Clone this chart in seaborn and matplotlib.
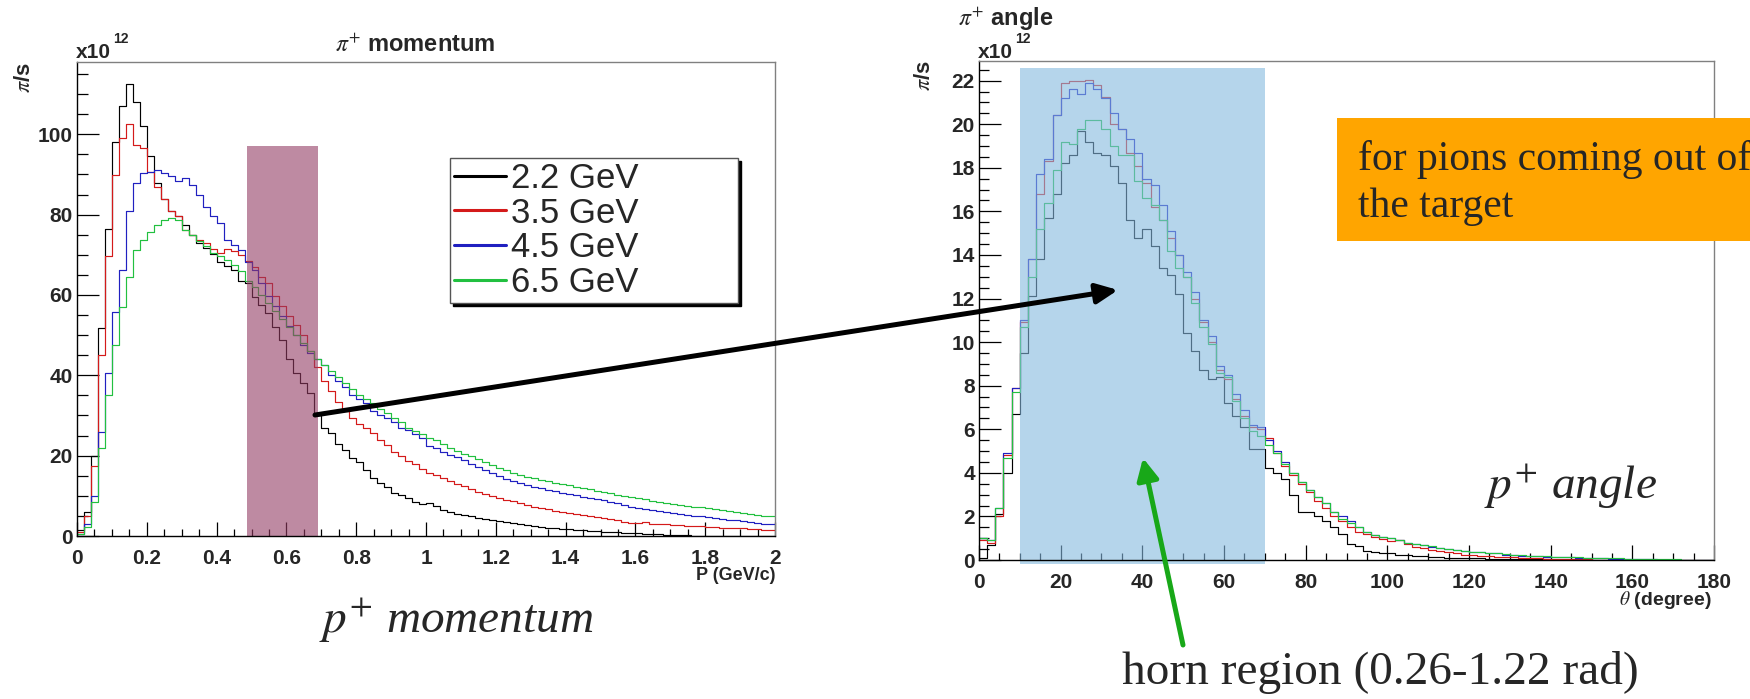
import numpy as np
import pandas as pd
import matplotlib
matplotlib.use("Agg")
import matplotlib.pyplot as plt
import seaborn as sns
from matplotlib.patches import Rectangle, FancyArrowPatch
from matplotlib.lines import Line2D
from matplotlib.ticker import MultipleLocator, FuncFormatter

# ---------------- data (x10^12 pions / s) ----------------
beam_labels = ["2.2 GeV", "3.5 GeV", "4.5 GeV", "6.5 GeV"]
line_colors = ["#000000", "#d41a1a", "#2020c0", "#22c040"]

# momentum spectrum, 100 bins of 0.02 GeV/c from 0 to 2
p_range, p_width = (0.0, 2.0), 0.02
p_2p2 = [1.5, 6, 20, 51.7, 76.5, 98, 107, 112.5, 108, 102,
         94.5, 88, 84, 81, 79.6, 77.4, 75, 73, 71.6, 70.2,
         68.2, 67.1, 66.3, 63.4, 63, 59.6, 57.5, 55.5, 52, 48.8,
         44, 40.5, 38, 35.5, 30, 27, 25.6, 23, 21.4, 19.4,
         18.5, 16.4, 14.4, 13.1, 12.3, 10.6, 10.2, 9.4, 8.5, 8.0,
         8.1, 7.5, 6.4, 6.0, 5.6, 5.2, 4.9, 4.6, 4.3, 4.0,
         3.7, 3.5, 3.2, 3.0, 2.7, 2.5, 2.3, 2.1, 1.9, 1.8,
         1.7, 1.5, 1.4, 1.3, 1.2, 1.1, 1.0, 0.9, 0.8, 0.8,
         0.7, 0.6, 0.5, 0.4, 0.3, 0.2, 0.15, 0.15, 0.1, 0.1,
         0.1, 0.1, 0.1, 0.05, 0.05, 0.05, 0.05, 0.05, 0.05, 0.05]
p_3p5 = [1, 5, 17.5, 45, 69.6, 89.8, 99, 102.6, 97.4, 96.5,
         90.7, 87, 84, 81, 79.6, 76.3, 75, 73.7, 73, 71.5,
         70.4, 71.4, 71, 70, 68.5, 67, 64.6, 63, 59.7, 57.3,
         54.8, 52.5, 50, 46, 42, 38.5, 36, 33.4, 31, 29.5,
         28, 26.8, 25.6, 24, 22.6, 21, 19.8, 18.7, 17.8, 16.8,
         15.8, 15.2, 14.4, 13.7, 13.0, 12.4, 11.8, 11.0, 10.4, 9.9,
         9.4, 9.0, 8.6, 8.1, 7.7, 7.3, 7.0, 6.6, 6.3, 6.0,
         5.7, 5.4, 5.2, 4.9, 4.7, 4.4, 4.2, 3.9, 3.6, 3.3,
         3.2, 3.5, 3.1, 3.0, 2.9, 2.8, 2.7, 2.6, 2.5, 2.4,
         2.3, 2.2, 2.1, 2.0, 2.0, 1.9, 1.8, 1.7, 1.6, 1.6]
p_4p5 = [0.5, 3, 10, 26, 40.5, 55.8, 66.3, 81, 87.8, 90.3,
         90.5, 91, 90.3, 89.5, 88.4, 89, 87.4, 84.9, 82, 79.6,
         77.8, 73.7, 72.5, 71.2, 68.3, 66.3, 63, 59.7, 57.3, 54.8,
         52.3, 50, 47.5, 45.5, 44, 42.5, 40, 38.5, 37, 35,
         34, 33, 31, 30, 29.5, 28.5, 27, 26.4, 25.3, 24.3,
         22.5, 21.8, 21.0, 20.2, 19.6, 18.8, 18.0, 17.2, 16.4, 15.7,
         14.9, 14.3, 13.8, 13.3, 12.8, 12.3, 11.9, 11.4, 11.1, 10.8,
         10.5, 10.1, 9.8, 9.5, 9.2, 8.9, 8.5, 8.1, 7.6, 7.3,
         7.0, 6.7, 6.4, 6.1, 5.9, 5.7, 5.5, 5.3, 5.1, 4.9,
         4.7, 4.5, 4.3, 4.1, 3.9, 3.7, 3.4, 3.2, 3.0, 2.9]
p_6p5 = [0.5, 2.3, 8.5, 22, 35, 47.6, 56.9, 64.6, 71.2, 73.6,
         75.8, 77.4, 78.6, 79.2, 78.6, 76.2, 75, 73.4, 72.1, 70.5,
         69.8, 68.8, 67.4, 66, 63.4, 62, 60, 58, 56, 54,
         52, 50, 48, 46, 44, 42.5, 41, 39.5, 38, 36.5,
         35, 34, 33, 31.5, 30.5, 29.5, 28.5, 26.8, 26.2, 25.5,
         24.5, 23.9, 23.0, 22.0, 21.2, 20.5, 19.8, 19.1, 18.4, 17.6,
         16.9, 16.4, 15.8, 15.3, 14.8, 14.4, 14.0, 13.6, 13.2, 12.9,
         12.6, 12.3, 12.0, 11.6, 11.3, 11.0, 10.7, 10.3, 10.0, 9.7,
         9.4, 9.1, 8.7, 8.5, 8.2, 7.9, 7.7, 7.5, 7.3, 7.1,
         6.9, 6.6, 6.4, 6.2, 6.0, 5.7, 5.5, 5.2, 5.0, 4.9]

# angular spectrum, 90 bins of 2 degrees from 0 to 180
t_range, t_width = (0.0, 180.0), 2.0
t_2p2 = [0.1, 0.7, 2.1, 4.0, 6.7, 9.5, 12.1, 13.8, 15.7, 16.8,
         18.2, 18.6, 19.7, 19.2, 18.7, 18.6, 18.1, 17.3, 15.6, 14.8,
         15.2, 14.4, 13.4, 13.1, 12.2, 10.4, 9.6, 8.7, 8.3, 8.4,
         7.2, 6.6, 6.1, 5.1, 5.1, 4.2, 4.0, 3.7, 3.0, 2.2,
         2.2, 2.0, 1.8, 1.5, 1.2, 0.75, 0.65, 0.4, 0.35, 0.3,
         0.3, 0.25, 0.25, 0.2, 0.2, 0.15, 0.15, 0.1, 0.1, 0.1,
         0.08, 0.08, 0.06, 0.06, 0.05, 0.05, 0.04, 0.04, 0.03, 0.03,
         0.02, 0.02, 0.02, 0.01, 0.01, 0.01, 0, 0, 0, 0,
         0, 0, 0, 0, 0, 0, 0, 0, 0, 0]
t_3p5 = [0.9, 0.8, 2.0, 4.8, 7.9, 10.9, 13.8, 16.8, 18.3, 20.4,
         21.9, 22.0, 22.0, 22.05, 21.8, 21.25, 20.0, 19.8, 18.7, 18.1,
         17.3, 16.2, 15.6, 14.8, 14.0, 13.0, 12.0, 10.9, 10.0, 8.7,
         8.3, 7.4, 6.6, 6.1, 6.0, 5.6, 4.9, 4.3, 3.9, 3.5,
         3.1, 2.7, 2.4, 2.0, 1.8, 1.5, 1.3, 1.2, 1.05, 0.95,
         0.85, 0.9, 0.75, 0.6, 0.55, 0.45, 0.4, 0.35, 0.3, 0.25,
         0.25, 0.2, 0.2, 0.15, 0.15, 0.12, 0.1, 0.1, 0.08, 0.06,
         0.05, 0.05, 0.04, 0.03, 0.03, 0.02, 0.02, 0.01, 0, 0,
         0, 0, 0, 0, 0, 0, 0, 0, 0, 0]
t_4p5 = [1.0, 0.9, 2.4, 4.9, 7.9, 11.0, 13.8, 17.7, 18.4, 20.4,
         21.2, 21.6, 21.4, 21.9, 21.6, 21.2, 20.5, 19.8, 19.3, 18.7,
         17.5, 17.2, 16.3, 15.1, 14.0, 13.2, 12.3, 11.0, 10.3, 8.9,
         8.5, 7.6, 6.9, 6.2, 6.1, 5.5, 5.0, 4.5, 4.0, 3.6,
         3.2, 2.9, 2.6, 2.2, 2.0, 1.8, 1.5, 1.3, 1.15, 1.05,
         1.0, 0.9, 0.8, 0.75, 0.7, 0.6, 0.55, 0.5, 0.45, 0.4,
         0.35, 0.35, 0.3, 0.3, 0.25, 0.25, 0.2, 0.2, 0.2, 0.15,
         0.15, 0.12, 0.12, 0.1, 0.1, 0.08, 0.08, 0.06, 0.05, 0.05,
         0.04, 0.03, 0.03, 0.02, 0.02, 0.01, 0.01, 0, 0, 0]
t_6p5 = [1.0, 0.9, 2.4, 4.7, 7.7, 10.7, 13.0, 15.2, 16.4, 17.9,
         19.2, 19.1, 19.8, 20.2, 20.2, 19.8, 19.0, 18.6, 18.6, 17.4,
         16.6, 16.3, 15.6, 14.2, 13.4, 13.0, 11.8, 10.7, 9.9, 8.6,
         8.4, 7.3, 6.5, 5.9, 5.7, 5.3, 4.9, 4.4, 4.0, 3.6,
         3.2, 2.9, 2.6, 2.2, 1.9, 1.7, 1.5, 1.3, 1.15, 1.05,
         1.0, 0.9, 0.8, 0.75, 0.7, 0.62, 0.55, 0.5, 0.45, 0.42,
         0.38, 0.35, 0.32, 0.3, 0.27, 0.25, 0.22, 0.2, 0.2, 0.18,
         0.16, 0.15, 0.14, 0.12, 0.11, 0.1, 0.09, 0.08, 0.07, 0.06,
         0.05, 0.05, 0.04, 0.04, 0.03, 0.03, 0.02, 0.02, 0, 0]

momentum_series = [p_2p2, p_3p5, p_4p5, p_6p5]
angle_series = [t_2p2, t_3p5, t_4p5, t_6p5]

# highlighted ranges
p_band = (0.487, 0.69, 97.0)      # momentum band and its height
horn_band = (10.0, 70.0)          # horn acceptance in degrees

# ---------------- style ----------------
sns.set_style("white")
plt.rcParams["font.family"] = ["Liberation Sans", "DejaVu Sans"]
plt.rcParams["mathtext.fontset"] = "stix"

W, H = 1750, 699
fig = plt.figure(figsize=(W / 100, H / 100), dpi=100)


def fx(x):
    return x / W


def fy(y):
    return 1 - y / H


axL = fig.add_axes([fx(77), fy(536), 698 / W, 474 / H])
axR = fig.add_axes([fx(979), fy(560), 735 / W, 499 / H])


def draw_hist(ax, series, brange, bwidth):
    nb = len(series[0])
    centers = brange[0] + bwidth * (np.arange(nb) + 0.5)
    for vals, col in zip(series, line_colors):
        df = pd.DataFrame({"x": centers, "w": np.asarray(vals, dtype=float)})
        sns.histplot(data=df, x="x", weights="w", binwidth=bwidth,
                     binrange=brange, element="step", fill=False,
                     color=col, linewidth=0.85, ax=ax)


def style_axis(ax, xmaj, xmin, ymaj, ymin, ylen_maj, ylen_min, xlen_maj, xlen_min):
    ax.set_xlabel("")
    ax.set_ylabel("")
    for s in ["left", "bottom"]:
        ax.spines[s].set_color("black")
        ax.spines[s].set_linewidth(1.0)
    for s in ["top", "right"]:
        ax.spines[s].set_color("#808080")
        ax.spines[s].set_linewidth(1.0)
    ax.xaxis.set_major_locator(MultipleLocator(xmaj))
    ax.xaxis.set_minor_locator(MultipleLocator(xmin))
    ax.yaxis.set_major_locator(MultipleLocator(ymaj))
    ax.yaxis.set_minor_locator(MultipleLocator(ymin))
    ax.xaxis.set_major_formatter(FuncFormatter(lambda v, p: "%g" % round(v, 4)))
    ax.yaxis.set_major_formatter(FuncFormatter(lambda v, p: "%g" % round(v, 4)))
    ax.tick_params(axis="both", which="both", direction="in", color="black",
                   width=0.9, top=False, right=False, bottom=True, left=True)
    ax.tick_params(axis="y", which="major", length=ylen_maj, pad=3)
    ax.tick_params(axis="y", which="minor", length=ylen_min)
    ax.tick_params(axis="x", which="major", length=xlen_maj, pad=9)
    ax.tick_params(axis="x", which="minor", length=xlen_min)
    for lab in ax.get_xticklabels() + ax.get_yticklabels():
        lab.set_fontsize(15)
        lab.set_fontweight("bold")


# ---------------- left panel: momentum ----------------
draw_hist(axL, momentum_series, p_range, p_width)
axL.set_xlim(0, 2)
axL.set_ylim(0, 118)
style_axis(axL, 0.2, 0.05, 20, 5, 16, 8, 10, 5)
axL.add_patch(Rectangle((p_band[0], 0), p_band[1] - p_band[0], p_band[2],
                        facecolor="#943c64", alpha=0.6, edgecolor="none", zorder=2.2))

handles = [Line2D([], [], color=c, lw=2.2) for c in line_colors]
leg = axL.legend(handles, beam_labels, loc="center",
                 bbox_to_anchor=(0.534, 0.462, 0.413, 0.365), mode="expand",
                 fontsize=25, frameon=True, fancybox=False,
                 shadow={"color": "black", "alpha": 1.0},
                 handlelength=1.5, handletextpad=0.15, labelspacing=0.05,
                 borderpad=0.12, borderaxespad=0)
leg.get_frame().set_edgecolor("#555555")
leg.get_frame().set_linewidth(1.0)
leg.set_zorder(5)

# ---------------- right panel: angle ----------------
draw_hist(axR, angle_series, t_range, t_width)
axR.set_xlim(0, 180)
axR.set_ylim(0, 22.9)
style_axis(axR, 20, 5, 2, 0.5, 16, 7, 11, 5)
axR.add_patch(Rectangle((horn_band[0], -0.18), horn_band[1] - horn_band[0], 22.78,
                        facecolor="#84b9df", alpha=0.6, edgecolor="none",
                        zorder=2.2, clip_on=False))

# ---------------- titles and axis texts ----------------
fig.text(fx(415), fy(45), r"$\pi^{+}$ momentum", fontsize=17, fontweight="bold",
         ha="center", va="center")
fig.text(fx(1006), fy(19), r"$\pi^{+}$ angle", fontsize=17, fontweight="bold",
         ha="center", va="center")
for xpos in (77, 979):
    fig.text(fx(xpos - 1), fy(58), r"x10", fontsize=15, fontweight="bold",
             ha="left", va="baseline")
    fig.text(fx(xpos + 36), fy(43), "12", fontsize=10, fontweight="bold",
             ha="left", va="baseline")
fig.text(fx(24), fy(78), r"$\pi$/s", fontsize=16, fontweight="bold",
         rotation=90, ha="center", va="center")
fig.text(fx(924), fy(76), r"$\pi$/s", fontsize=16, fontweight="bold",
         rotation=90, ha="center", va="center")
fig.text(fx(775), fy(576), "P (GeV/c)", fontsize=13, fontweight="bold",
         ha="right", va="center")
fig.text(fx(1712), fy(600), r"$\theta$ (degree)", fontsize=14, fontweight="bold",
         ha="right", va="center")

serif = ["Liberation Serif", "DejaVu Serif"]
fig.text(fx(456), fy(633), r"$p^{+}$ momentum", fontsize=34, style="italic",
         family=serif, ha="center", va="baseline")
fig.text(fx(1484), fy(499), r"$p^{+}$ angle", fontsize=34, style="italic",
         family=serif, ha="left", va="baseline")
fig.text(fx(1380), fy(684), "horn region (0.26-1.22 rad)", fontsize=34,
         family=serif, ha="center", va="baseline")

# note box
fig.add_artist(Rectangle((fx(1337), fy(241)), (W - 1337 + 20) / W, (241 - 118) / H,
                         transform=fig.transFigure, facecolor="#ffa500",
                         edgecolor="none", zorder=3))
fig.text(fx(1358), fy(170), "for pions coming out of", fontsize=30, family=serif,
         ha="left", va="baseline", zorder=4)
fig.text(fx(1358), fy(217), "the target", fontsize=30, family=serif,
         ha="left", va="baseline", zorder=4)

# ---------------- arrows ----------------
fig.add_artist(FancyArrowPatch((fx(315), fy(415)), (fx(1118), fy(290)),
                               transform=fig.transFigure,
                               arrowstyle="-|>,head_length=13,head_width=6",
                               mutation_scale=1, lw=3.6, color="black",
                               shrinkA=0, shrinkB=0, zorder=6))
fig.add_artist(FancyArrowPatch((fx(1183), fy(645)), (fx(1143), fy(458)),
                               transform=fig.transFigure,
                               arrowstyle="-|>,head_length=13,head_width=6.5",
                               mutation_scale=1, lw=3.6, color="#18a818",
                               shrinkA=0, shrinkB=0, zorder=6))

fig.savefig("out.png", dpi=100)
